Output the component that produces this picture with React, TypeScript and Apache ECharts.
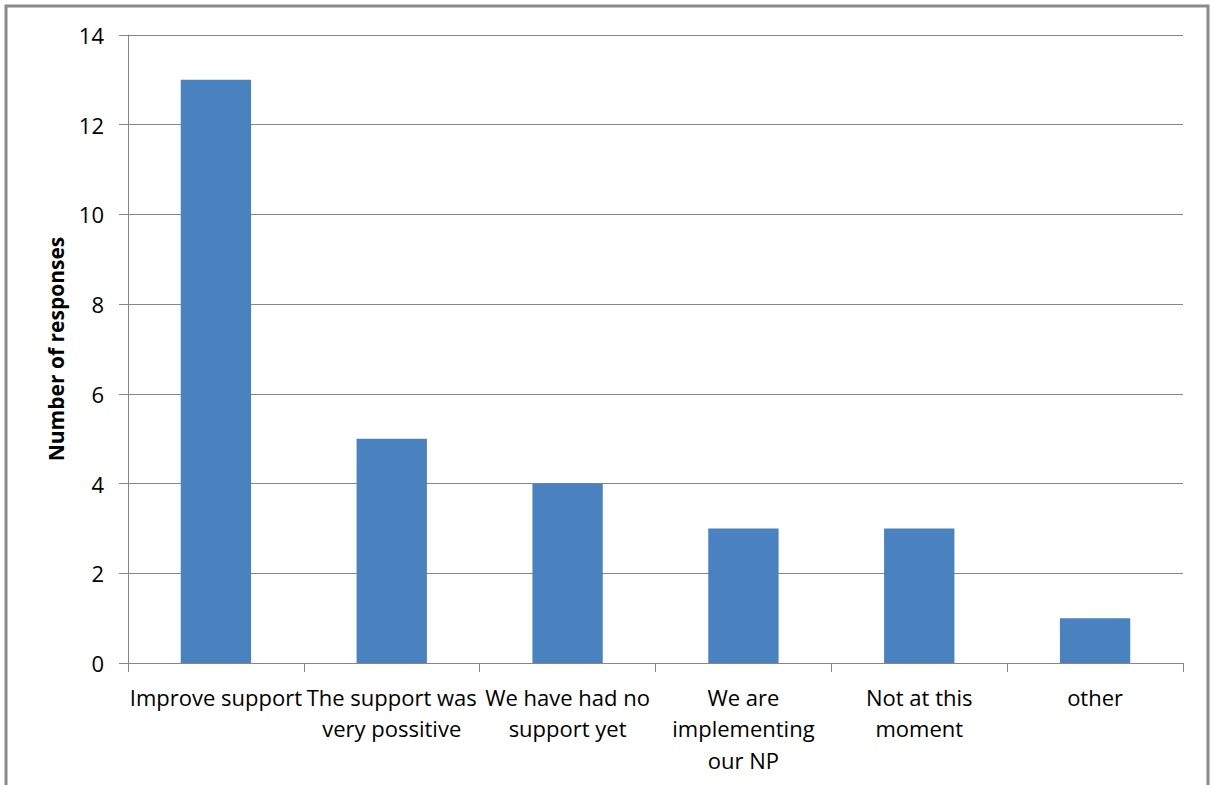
import React, { useEffect, useRef } from "react";
import * as echarts from "echarts";

const categories = [
  "Improve support",
  "The support was\nvery possitive",
  "We have had no\nsupport yet",
  "We are\nimplementing\nour NP",
  "Not at this\nmoment",
  "other",
];
const responses = [13, 5, 4, 3, 3, 1];
const yAxisName = "Number of responses";

export default function App() {
  const ref = useRef<HTMLDivElement>(null);
  useEffect(() => {
    if (!ref.current) return;
    const chart = echarts.init(ref.current, undefined, { renderer: "svg" });
    const font = "'Open Sans', 'Liberation Sans', sans-serif";
    chart.setOption({
      animation: false,
      backgroundColor: "#ffffff",
      grid: { left: 128, right: 28, top: 35, bottom: 122, containLabel: false },
      graphic: [
        {
          type: "rect",
          shape: { x: 6, y: 6, width: 1202, height: 820 },
          style: { fill: "none", stroke: "#8a8a8a", lineWidth: 3 },
          silent: true,
        },
      ],
      xAxis: {
        type: "category",
        data: categories,
        boundaryGap: true,
        axisLine: { show: true, lineStyle: { color: "#868686", width: 1 } },
        axisTick: { show: true, alignWithLabel: false, length: 9, lineStyle: { color: "#868686" } },
        axisLabel: {
          interval: 0,
          color: "#000",
          fontFamily: font,
          fontSize: 22,
          lineHeight: 31.5,
          margin: 18,
          align: "center",
          hideOverlap: false,
        },
      },
      yAxis: {
        type: "value",
        min: 0,
        max: 14,
        interval: 2,
        name: yAxisName,
        nameLocation: "middle",
        nameGap: 62,
        nameRotate: 90,
        nameTextStyle: { color: "#000", fontFamily: font, fontSize: 21, fontWeight: "bold" },
        axisLine: { show: true, lineStyle: { color: "#868686", width: 1 } },
        axisTick: { show: true, inside: false, length: 9, lineStyle: { color: "#868686" } },
        splitLine: { show: true, lineStyle: { color: "#868686", width: 1 } },
        axisLabel: { color: "#000", fontFamily: font, fontSize: 22, margin: 24 },
      },
      series: [
        {
          type: "bar",
          data: responses,
          barWidth: "40%",
          itemStyle: { color: "#4a81bf" },
        },
      ],
    });
    return () => chart.dispose();
  }, []);
  return (
    <div
      ref={ref}
      style={{ position: "absolute", left: 0, top: 0, width: 1211, height: 785 }}
    />
  );
}
